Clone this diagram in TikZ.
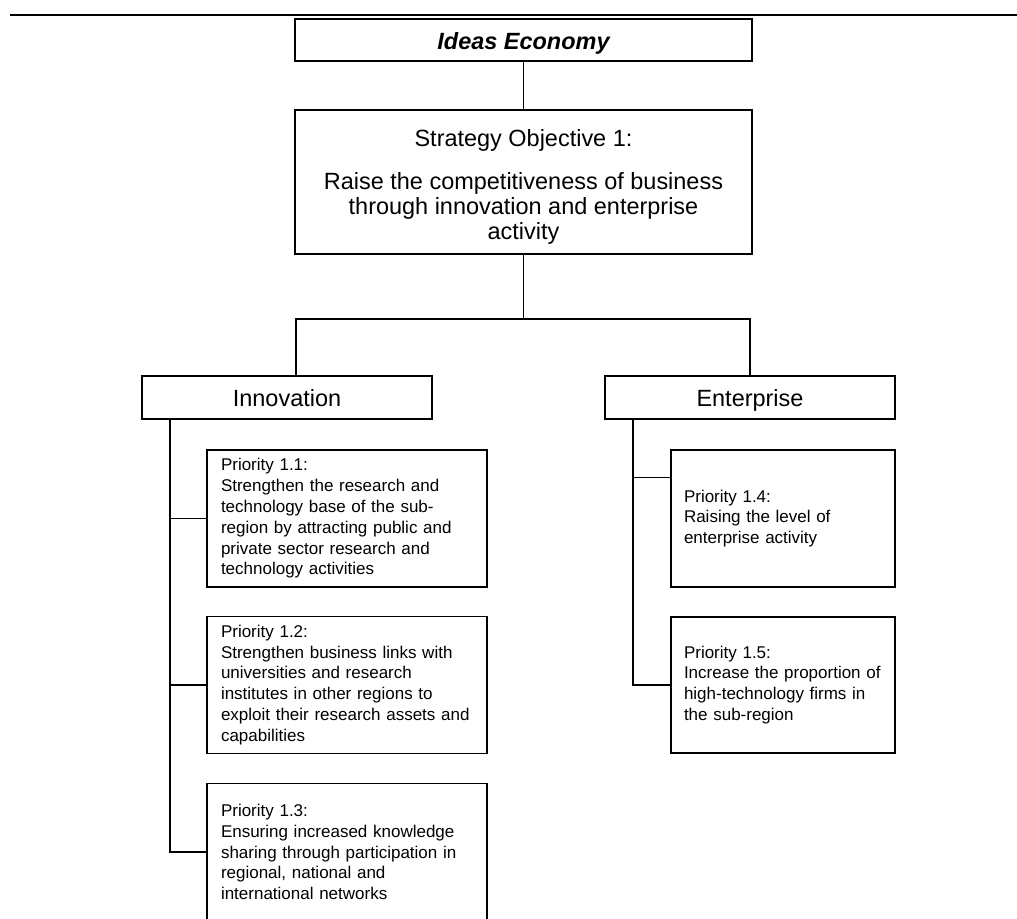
\documentclass[tikz,border=0pt]{standalone}
\usepackage{fontspec}
\setmainfont{Liberation Sans}
\usetikzlibrary{calc}
\begin{document}
\begin{tikzpicture}[x=0.75pt,y=-0.75pt,
  box/.style={draw, line width=1pt, inner sep=0pt, outer sep=0pt},
  theme/.style={box, font=\fontsize{17.6}{18}\selectfont,
    text height=16pt, text depth=1.75pt, minimum height=32.25pt},
  prio/.style={box, font=\fontsize{12.75}{15.6}\selectfont, align=left,
    inner xsep=10.5pt, text width=189pt, minimum height=102.75pt},
  prioR/.style={prio, inner xsep=9.75pt, text width=148.5pt},
  link/.style={line width=1pt}]
\useasboundingbox (0,0) rectangle (1017,919);

% page rule
\coordinate (ruleL) at (10,15);
\coordinate (ruleR) at (1017,15);
\draw[line width=2pt] (ruleL) -- (ruleR);

% top of the hierarchy
\node[theme, minimum width=342.75pt, minimum height=31.5pt,
      font=\fontsize{17.6}{18}\selectfont\bfseries\itshape] (ideas) at (523.5,40) {Ideas Economy};
\node[box, minimum width=342.75pt, minimum height=108pt, anchor=north,
      font=\fontsize{17.6}{18.75}\selectfont] (strategy) at (523.5,110)
  {\begin{minipage}[c][108pt][t]{340pt}\centering
   \rule{0pt}{27.75pt}Strategy Objective 1:\\[13pt]
   Raise the competitiveness of business\\
   through innovation and enterprise\\
   activity\end{minipage}};

% themes
\node[theme, minimum width=217.5pt] (innov) at (287,397.5) {Innovation};
\node[theme, minimum width=217.5pt] (enter) at (750,397.5) {Enterprise};

% priorities
\node[prio] (p11) at (347,518.5)
  {Priority 1.1:\\Strengthen the research and\\technology base of the sub-\\region by attracting public and\\private sector research and\\technology activities};
\node[prio] (p12) at (347,685)
  {Priority 1.2:\\Strengthen business links with\\universities and research\\institutes in other regions to\\exploit their research assets and\\capabilities};
\node[prio] (p13) at (347,852)
  {Priority 1.3:\\Ensuring increased knowledge\\sharing through participation in\\regional, national and\\international networks};
\node[prioR] (p14) at (783,518.5)
  {Priority 1.4:\\Raising the level of\\enterprise activity};
\node[prioR, minimum height=102pt] (p15) at (783,685)
  {Priority 1.5:\\Increase the proportion of\\high-technology firms in\\the sub-region};

% connectors
\draw[link] (ideas.south) -- (strategy.north);
\coordinate (split) at (523.5,319);
\coordinate (dropL) at (296,319);
\draw[link] (strategy.south) -- (split);
\draw[link] (innov.north -| dropL) -- (dropL) -- (split) -| (enter.north);

\coordinate (spineL) at (170,419);
\draw[link] (spineL) |- (p13.west);
\draw[link] (spineL |- p11.west) -- (p11.west);
\draw[link] (spineL |- p12.west) -- (p12.west);

\coordinate (spineR) at (633,419);
\coordinate (b14) at ($(p14.north west)!0.2!(p14.south west)$);
\draw[link] (spineR) |- (p15.west);
\draw[link] (spineR |- b14) -- (b14);
\end{tikzpicture}
\end{document}
